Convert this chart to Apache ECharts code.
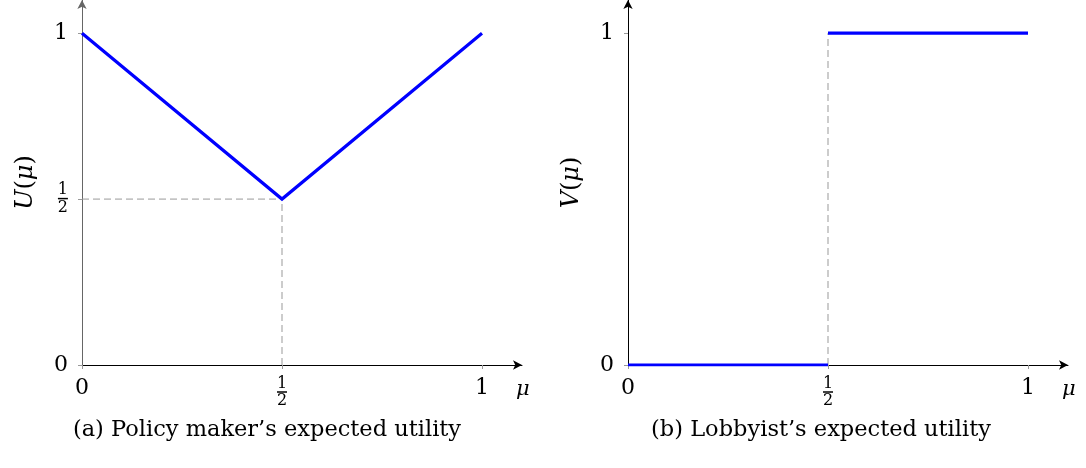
<!DOCTYPE html>
<html>
<head>
<meta charset="utf-8">
<style>
  html, body { margin: 0; padding: 0; background: #fff; }
  #chart { width: 1086px; height: 468px; }
</style>
<script src="https://cdn.jsdelivr.net/npm/echarts@6/dist/echarts.min.js"></script>
</head>
<body>
<div id="chart"></div>
<script>
// Policy maker's expected utility U(mu)
const policyPoints = [[0, 1], [0.5, 0.5], [1, 1]];
// Lobbyist's expected utility V(mu): step at mu = 1/2
const lobbyLow = [[0, 0], [0.5, 0]];
const lobbyHigh = [[0.5, 1], [1, 1]];
// Dashed guide lines
const policyGuideH = [[0, 0.5], [0.5, 0.5]];
const policyGuideV = [[0.5, 0], [0.5, 0.5]];
const lobbyGuideV = [[0.5, 0], [0.5, 1]];
// Tick positions
const xTicks = [0, 0.5, 1];
const policyYTicks = [0, 0.5, 1];
const lobbyYTicks = [0, 1];
const captions = ["(a) Policy maker\u2019s expected utility", "(b) Lobbyist\u2019s expected utility"];

const SERIF = "DejaVu Serif";
const BLUE = "#0000ff";
const GUIDE = "#999999";

const fracRich = {
  n: { fontFamily: SERIF, fontSize: 16, lineHeight: 13, align: "center", color: "#000" },
  bar: { width: 10, height: 1.5, lineHeight: 4, backgroundColor: "#000", align: "center", fontSize: 1 },
  d: { fontFamily: SERIF, fontSize: 16, lineHeight: 14, align: "center", color: "#000" },
  v: { fontFamily: SERIF, fontSize: 22, color: "#000" },
  i: { fontFamily: SERIF, fontStyle: "italic", fontSize: 24, color: "#000" },
  u: { fontFamily: SERIF, fontSize: 24, color: "#000" },
  m: { fontFamily: SERIF, fontStyle: "italic", fontSize: 21, color: "#000" }
};

function tickLabel(v) {
  if (Math.abs(v - 0.5) < 1e-9) return "{n|1}\n{bar| }\n{d|2}";
  return "{v|" + v + "}";
}

function xAxisFor(gridIndex) {
  return {
    type: "value", gridIndex: gridIndex, min: 0, max: 1.1,
    splitLine: { show: false },
    axisLine: { onZero: false, symbol: ["none", "arrow"], symbolSize: [7, 9],
                lineStyle: { color: "#000", width: 1 } },
    axisTick: { customValues: xTicks, length: 4, lineStyle: { color: "#999" } },
    axisLabel: { customValues: xTicks, formatter: tickLabel, margin: 12, rich: fracRich,
                 verticalAlign: "top" },
    name: "{m|\u03bc}", nameLocation: "end", nameGap: -6,
    nameTextStyle: { rich: fracRich, verticalAlign: "top", align: "left", padding: [14, 0, 0, 0] }
  };
}

function yAxisFor(gridIndex, ticks, letter, axisColor) {
  return {
    type: "value", gridIndex: gridIndex, min: 0, max: 1.1,
    splitLine: { show: false },
    axisLine: { onZero: false, symbol: ["none", "arrow"], symbolSize: [7, 9],
                lineStyle: { color: axisColor, width: 1 } },
    axisTick: { customValues: ticks, length: 4, lineStyle: { color: "#999" } },
    axisLabel: { customValues: ticks, formatter: tickLabel, margin: 14, rich: fracRich },
    name: "{i|" + letter + "}{u|(}{i|\u03bc}{u|)}", nameLocation: "middle", nameGap: 44,
    nameRotate: 90,
    nameTextStyle: { rich: fracRich, padding: [0, 0, 0, 0] }
  };
}

function guide(data, xi) {
  return {
    type: "line", data: data, xAxisIndex: xi, yAxisIndex: xi, symbol: "none", silent: true,
    lineStyle: { color: GUIDE, width: 1, type: [7, 4] }, z: 1
  };
}

function curve(data, xi) {
  return {
    type: "line", data: data, xAxisIndex: xi, yAxisIndex: xi, symbol: "none",
    lineStyle: { color: BLUE, width: 3.2, cap: "butt", join: "miter" }, z: 3
  };
}

const captionStyle = { fontFamily: SERIF, fontWeight: "normal", fontSize: 22.5, color: "#000" };

const chart = echarts.init(document.getElementById("chart"), null, { renderer: "canvas" });
chart.setOption({
  animation: false,
  backgroundColor: "#fff",
  title: [
    { text: captions[0], left: 262, top: 414, textAlign: "center", textStyle: captionStyle },
    { text: captions[1], left: 816, top: 414, textAlign: "center", textStyle: captionStyle }
  ],
  grid: [
    { left: 82, top: 0, width: 440, height: 365 },
    { left: 628, top: 0, width: 440, height: 365 }
  ],
  xAxis: [xAxisFor(0), xAxisFor(1)],
  yAxis: [yAxisFor(0, policyYTicks, "U", "#666666"), yAxisFor(1, lobbyYTicks, "V", "#000")],
  series: [
    guide(policyGuideH, 0),
    guide(policyGuideV, 0),
    guide(lobbyGuideV, 1),
    curve(policyPoints, 0),
    curve(lobbyLow, 1),
    curve(lobbyHigh, 1)
  ]
});
</script>
</body>
</html>
